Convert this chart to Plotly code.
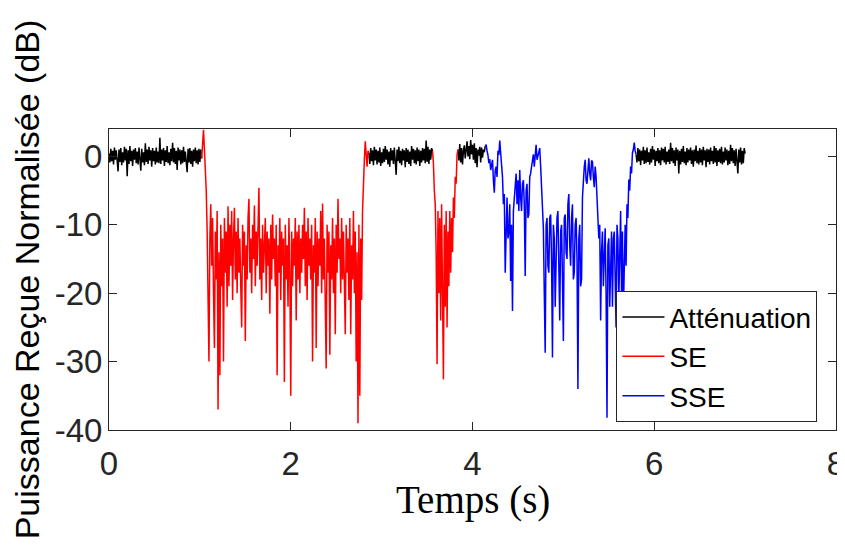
import plotly.graph_objects as go

# ---------------- data: received power (dB), one value every 0.01 s ----------------
STEP = 0.01

# Atténuation (black), 0.00 s -> 1.02 s
BLACK_1_START = 0.00
BLACK_1 = [0.4, -0.9, 1.1, -0.7, 0.8, -1.2, 1.3, -0.5, 0.9, -1.0,
           -2.2, 1.0, -0.8, 1.2, -1.3, 0.6, -0.9, 1.4, -0.6, 1.1,
           -2.9, 0.9, -1.1, 1.5, -0.7, 0.8, -1.4, 1.0, -0.5, 1.2,
           -1.0, 0.7, -1.2, 1.3, -0.8, -2.1, 1.1, -0.9, 0.6, -1.3,
           1.9, -0.8, 1.0, -1.1, 1.4, -0.6, 0.9, -1.5, 1.2, -0.7,
           0.8, -1.2, 1.3, -0.9, 0.7, -1.0, 2.7, -1.1, 1.0, -0.6,
           1.2, -1.4, 0.9, -0.8, 1.5, -1.0, 0.6, -1.3, 1.1, -0.7,
           2.0, -0.9, 1.2, -1.1, 0.8, -2.0, 1.3, -0.6, 1.0, -1.2,
           0.9, -1.0, 1.4, -0.8, 0.7, -1.3, -2.3, 1.1, -0.9, 1.2,
           -1.1, 0.8, -1.5, 1.0, -0.7, 1.3, -1.0, 0.9, -1.2, 1.1,
           -0.8, 1.0, -0.3]

# SE (red), 1.02 s -> 2.86 s
RED_1_START = 1.02
RED_1 = [-0.3, 1.5, 3.9, 1.0, -1.5, -5, -11, -18, -30, -12,
         -7, -16, -9, -20, -28, -11, -18, -8, -37, -14,
         -32, -10, -19, -12, -30, -9, -17, -11, -22, -7.3,
         -19, -10, -16, -8, -21, -12, -7.5, -18, -11, -20,
         -9, -17, -12, -19, -25, -10, -16, -11, -27, -13,
         -18, -9, -6.2, -17, -12, -20, -10, -15, -7.2, -19,
         -11, -16, -9, -4.6, -18, -12, -21, -10, -17, -13,
         -9, -20, -11, -16, -12, -23, -10, -18, -8.5, -15,
         -12, -19, -10, -32, -13, -17, -9, -21, -11, -16,
         -12, -33, -10, -18, -13, -22, -9, -17, -35, -11,
         -19, -12, -16, -9, -24, -11, -18, -10, -20, -12,
         -17, -10, -15, -7.5, -19, -11, -21, -9, -16, -12,
         -18, -10, -30, -13, -17, -9, -28, -11, -19, -12,
         -16, -8, -20, -6.9, -18, -12, -22, -31, -10, -17,
         -11, -29, -13, -18, -9, -20, -12, -26, -10, -17,
         -6.2, -15, -12, -20, -9, -18, -11, -19, -26, -10,
         -17, -12, -21, -9, -26, -13, -18, -8, -20, -11,
         -30, -14, -39, -10, -35, -12, -21, -8, -3, -0.5,
         2.2, 0.5, -1.5, 0.8, 0.5]

# Atténuation (black), 2.86 s -> 3.56 s
BLACK_2_START = 2.86
BLACK_2 = [0.5, -1.1, 1.2, -0.7, 0.9, -1.3, 1.4, -0.6, 1.0, -1.2,
           0.8, -0.9, 1.3, -1.4, 0.6, -1.0, 1.1, -0.8, 1.5, -0.5,
           1.0, -1.2, 0.7, -1.5, 1.2, -0.6, 0.9, -1.1, 1.3, -0.9,
           -2.7, 1.0, -0.7, 1.4, -1.0, 0.8, -1.3, 1.1, -0.6, 0.9,
           -1.6, 1.2, -0.8, 1.0, -1.1, 0.7, -1.4, 1.5, -0.5, 1.1,
           -1.0, 0.9, -1.2, 1.3, -0.7, 1.0, -1.4, 0.8, -0.9, 1.2,
           -0.6, 1.1, -1.0, 2.3, -0.8, 1.4, -1.1, 1.0, -0.5, 1.2,
           0.8]

# SE (red), 3.56 s -> 3.84 s
RED_2_START = 3.56
RED_2 = [0.8, -1, -5, -7, -14, -30.4, -8, -20, -9, -24,
         -7, -19, -32.6, -10, -22, -8, -25, -11, -19, -8,
         -17, -9, -14, -6, -9, -3, -4, 0.2, 1.0]

# Atténuation (black), 3.84 s -> 4.14 s
BLACK_3_START = 3.84
BLACK_3 = [1.0, -0.6, 1.8, -0.9, 1.2, -1.2, 0.8, 1.6, -0.3, 1.1,
           2.2, 0.0, 1.5, -0.4, 2.4, 0.3, 1.7, -0.5, 1.9, -1.0,
           1.2, -1.6, 1.0, 0.1, 1.4, -0.9, 1.3, -0.2, 1.0, 0.6,
           1.5]

# SSE (blue), 4.14 s -> 5.80 s
BLUE_START = 4.14
BLUE = [1.5, 1.7, 0.8, 0.2, -1.0, -0.4, -2.0, -1.2, -0.5, -3.5,
        -5.3, -2.0, -1.5, -3.0, 0.8, 0.2, 2.3, 0.5, -1.0, -3.0,
        -7, -5.5, -17, -9, -6, -12, -11, -7, -18.2, -10,
        -22.6, -8, -6, -4, -2.5, -7, -3.5, -8, -2.0, -6,
        -8, -4, -3.5, -7, -17.5, -5, -4, -9, -8.5, -3,
        -2.5, -1.5, -0.5, 0.3, -1.5, 0.5, 1.7, -0.5, 0.2, 1.0,
        1.2, -1.5, -4, -7, -10.5, -20, -28.7, -10, -9, -16,
        -17, -9, -8.5, -15, -29.4, -10, -12, -22, -16, -9,
        -8, -17, -24, -11, -10, -18, -27, -9, -8.5, -14,
        -15, -7, -5.5, -13, -16, -9, -7, -18, -17, -10,
        -9, -15, -34, -12, -10, -19, -18, -6, -3, -1.5,
        -0.5, -3.5, -4, -1.0, -0.3, -2.5, -3.5, -0.6, -0.8, -3.0,
        -4.5, -1.5, -3, -6, -9, -12, -10, -24, -14, -11,
        -19, -12, -10.5, -20, -38.2, -13, -12, -22, -15, -11,
        -22, -12, -11, -19, -25, -10, -12, -21, -14, -8,
        -20, -11, -23, -13, -10, -16, -7, -9, -3.4, -5,
        -1.5, -2.5, 0.5, 1.0, 2.0, 0.8, 0.3]

# Atténuation (black), 5.80 s -> 7.00 s
BLACK_4_START = 5.80
BLACK_4 = [0.3, -0.9, 1.2, -0.7, 1.0, -1.3, 0.8, -0.6, 1.4, -1.1,
           0.9, -1.0, 1.3, -0.8, 0.6, -1.2, 1.1, -0.9, 1.5, -0.5,
           1.0, -1.4, 0.8, -0.7, 1.2, -1.0, 0.9, -1.3, 1.3, -0.6,
           1.1, -0.9, 1.4, -1.2, 0.7, -0.8, 1.0, -1.1, 2.0, -0.7,
           1.2, -1.0, 0.9, -1.4, 1.3, -0.6, 1.0, -2.5, 0.8, -1.2,
           1.1, -0.8, 1.5, -1.0, 0.7, -1.3, 1.2, -0.9, 1.0, -0.6,
           1.3, -1.1, 0.9, -1.5, 1.0, -0.7, 1.6, -1.0, 0.8, -1.2,
           1.2, -0.9, 1.0, -1.3, 1.4, -0.6, 0.9, -1.6, 1.1, -0.8,
           1.0, -1.2, 1.3, -0.7, 0.8, -1.1, 1.5, -0.9, 1.2, -1.4,
           0.9, -0.8, 1.1, -1.0, 1.4, -1.2, 0.7, -0.9, 1.3, -0.6,
           1.0, -1.3, 0.8, -1.1, 1.7, -0.7, 1.2, -1.0, 0.9, -1.4,
           1.1, -0.8, -2.5, 1.0, -0.9, 1.3, -1.2, 0.8, -1.0, 1.2,
           0.4]

SERIES_NAMES = ["Atténuation", "SE", "SSE"]
X_TICKS = [0, 2, 4, 6, 8]
X_TICK_TEXT = ["0", "2", "4", "6", "8"]
Y_TICKS = [-40, -30, -20, -10, 0]
Y_TICK_TEXT = ["-40", "-30", "-20", "-10", "0"]
X_TITLE = "Temps (s)"
Y_TITLE = "Puissance Reçue Normalisée (dB)"


def build(segments):
    xs, ys = [], []
    for k, (start, vals) in enumerate(segments):
        if k:
            xs.append(None)
            ys.append(None)
        xs += [round(start + STEP * i, 4) for i in range(len(vals))]
        ys += vals
    return xs, ys


bx, by = build([(BLACK_1_START, BLACK_1), (BLACK_2_START, BLACK_2),
                (BLACK_3_START, BLACK_3), (BLACK_4_START, BLACK_4)])
rx, ry = build([(RED_1_START, RED_1), (RED_2_START, RED_2)])
ux, uy = build([(BLUE_START, BLUE)])

AXIS = "#262626"
FONT = "Liberation Sans, Arial, Helvetica, sans-serif"
LW = 1.5

fig = go.Figure()
fig.add_trace(go.Scatter(x=bx, y=by, mode="lines", name=SERIES_NAMES[0],
                         line=dict(color="#000000", width=LW)))
fig.add_trace(go.Scatter(x=rx, y=ry, mode="lines", name=SERIES_NAMES[1],
                         line=dict(color="#FF0000", width=LW)))
fig.add_trace(go.Scatter(x=ux, y=uy, mode="lines", name=SERIES_NAMES[2],
                         line=dict(color="#0000FF", width=LW)))

axis_common = dict(showgrid=False, zeroline=False, showline=True, linecolor=AXIS,
                   linewidth=1, mirror="ticks", ticks="inside", ticklen=8,
                   tickcolor=AXIS, tickwidth=1,
                   tickfont=dict(family=FONT, size=33, color=AXIS))

fig.update_xaxes(range=[0, 8], tickvals=X_TICKS, ticktext=X_TICK_TEXT,
                 ticklabelstandoff=4, **axis_common)
fig.update_yaxes(range=[-40, 4], tickvals=Y_TICKS, ticktext=Y_TICK_TEXT,
                 ticklabelstandoff=-1,
                 title=dict(text=Y_TITLE, standoff=6,
                            font=dict(family=FONT, size=34, color="#000000")),
                 **axis_common)

# the page body has an 8 px default margin, so the margins are reduced by 8 px on the left/top
fig.update_layout(
    width=845, height=550,
    margin=dict(l=101, r=17, t=121, b=128, pad=0, autoexpand=False),
    paper_bgcolor="white", plot_bgcolor="white",
    font=dict(family=FONT, color="#000000"),
    legend=dict(x=0.698, y=0.461, xanchor="left", yanchor="top",
                bgcolor="white", bordercolor=AXIS, borderwidth=1,
                font=dict(family=FONT, size=28, color="#000000"),
                itemwidth=42, tracegroupgap=0),
    annotations=[
        dict(text=X_TITLE, xref="paper", yref="paper",
             x=0.5, y=-0.234, xanchor="center", yanchor="middle",
             showarrow=False,
             font=dict(family="Liberation Serif, Times New Roman, serif", size=39, color="#000000")),
    ],
)

fig.write_html("out.html")
